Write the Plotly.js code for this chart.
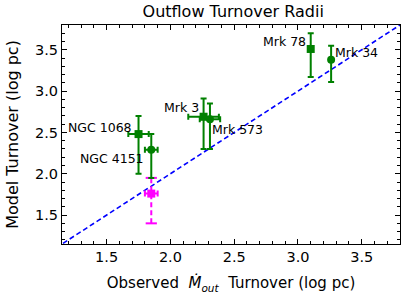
<!DOCTYPE html>
<html>
<head>
<meta charset="utf-8">
<script src="https://cdn.plot.ly/plotly-3.0.1.min.js"></script>
<style>html,body{margin:0;padding:0;background:#fff}#chart{width:407px;height:302px}</style>
</head>
<body>
<div id="chart"></div>
<script>
// Data
var names   = ["NGC 1068", "NGC 4151", "Mrk 3", "Mrk 573", "Mrk 78", "Mrk 34"];
var obsX    = [1.75, 1.85, 2.26, 2.31, 3.10, 3.26];
var modelY  = [2.48, 2.29, 2.69, 2.66, 3.51, 3.38];
var yErrHi  = [0.22, 0.19, 0.22, 0.19, 0.19, 0.17];
var yErrLo  = [0.48, 0.34, 0.39, 0.36, 0.34, 0.27];
var xErr    = [0.08, 0.05, 0.12, 0.08, 0.0, 0.0];
var symbols = ["square", "circle", "square", "circle", "square", "circle"];

// magenta point
var magX = [1.85], magY = [1.76], magYHi = [0.19], magYLo = [0.36], magXErr = [0.05];

// one-to-one line
var lineX = [1.0, 4.0];

var xRange = [1.15, 3.8], yRange = [1.15, 3.8];

var green = "#008000", magenta = "#ff00ff";

var traces = [];
traces.push({
  x: lineX, y: lineX, mode: "lines", type: "scatter",
  line: {color: "#0000ff", width: 1.6, dash: "5px,3px"}, hoverinfo: "skip"
});
// magenta vertical dashed error bar
traces.push({
  x: [magX[0], magX[0]], y: [magY[0] - magYLo[0], magY[0] + magYHi[0]],
  mode: "lines+markers", type: "scatter",
  line: {color: magenta, width: 2, dash: "5px,3px"},
  marker: {symbol: "line-ew", size: 8, line: {color: magenta, width: 2}}
});
traces.push({
  x: magX, y: magY, mode: "markers", type: "scatter",
  marker: {symbol: "square", size: 8, color: magenta},
  error_x: {type: "data", array: magXErr, color: magenta, thickness: 2, width: 3}
});
for (var i = 0; i < names.length; i++) {
  traces.push({
    x: [obsX[i]], y: [modelY[i]], mode: "markers", type: "scatter",
    marker: {symbol: symbols[i], size: 8, color: green},
    error_y: {type: "data", symmetric: false, array: [yErrHi[i]], arrayminus: [yErrLo[i]], color: green, thickness: 2, width: 3},
    error_x: {type: "data", array: [xErr[i]], color: green, thickness: 2, width: 3, visible: xErr[i] > 0}
  });
}

var labelAnchor = ["right", "right", "right", "left", "right", "left"];
var labelDx = [-5, -5, -3, 0, -3, 2];
var labelDy = [7, -9, 9, -10, 7, 7];
var annotations = names.map(function (n, i) {
  return {x: obsX[i], y: modelY[i], text: n, showarrow: false,
    xanchor: labelAnchor[i], yanchor: "middle", xshift: labelDx[i], yshift: labelDy[i],
    font: {family: "DejaVu Sans", size: 12.5, color: "#000"}};
});

var axisCommon = {
  showgrid: false, zeroline: false, showline: true, linecolor: "#000", linewidth: 1,
  mirror: "allticks", ticks: "inside", ticklen: 5, tickwidth: 1, tickcolor: "#000",
  dtick: 0.5, tickformat: ".1f",
  tickfont: {family: "DejaVu Sans", size: 14.5, color: "#000"},
  minor: {ticks: "inside", ticklen: 3, tickwidth: 1, tickcolor: "#000", dtick: 0.1, showgrid: false}
};

var layout = {
  width: 407, height: 302,
  margin: {l: 62, r: 7, t: 25, b: 58},
  paper_bgcolor: "#fff", plot_bgcolor: "#fff",
  showlegend: false,
  title: {text: "Outflow Turnover Radii", x: 0.573, xanchor: "center", y: 0.962, yanchor: "middle",
    font: {family: "DejaVu Sans", size: 16, color: "#000"}},
  xaxis: Object.assign({}, axisCommon, {range: xRange,
    title: {text: "Observed&nbsp;&nbsp;<i>M&#775;</i><sub><i>out</i></sub>&nbsp; Turnover (log pc)", standoff: 13,
      font: {family: "DejaVu Sans", size: 15, color: "#000"}}}),
  yaxis: Object.assign({}, axisCommon, {range: yRange,
    title: {text: "Model Turnover (log pc)", standoff: 12,
      font: {family: "DejaVu Sans", size: 16, color: "#000"}}}),
  annotations: annotations
};

Plotly.newPlot("chart", traces, layout, {staticPlot: true, displayModeBar: false});
</script>
</body>
</html>
